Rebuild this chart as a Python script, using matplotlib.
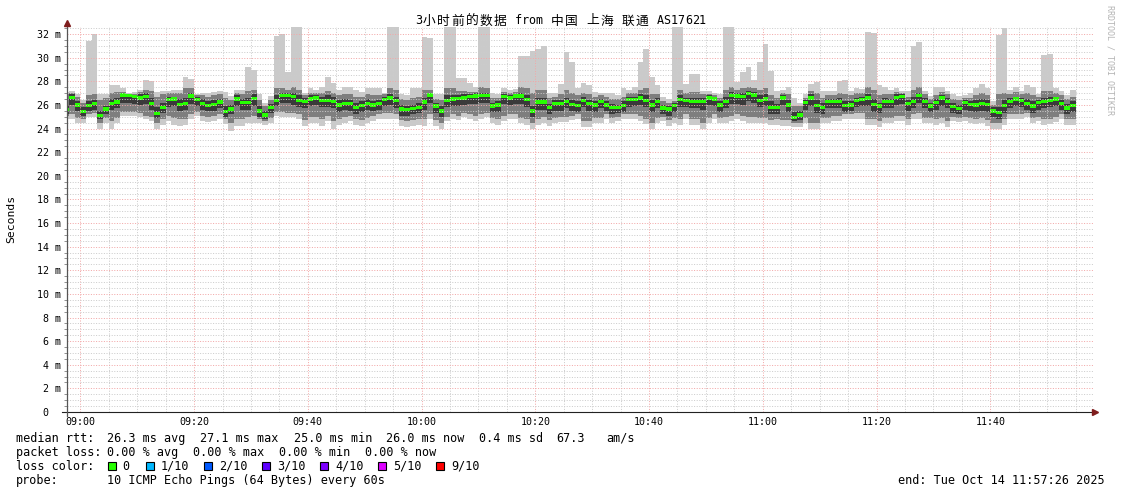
import numpy as np
import matplotlib
matplotlib.use("Agg")
import matplotlib.pyplot as plt
from matplotlib.lines import Line2D
from matplotlib.patches import Rectangle

plt.rcParams['font.family'] = ['DejaVu Sans Mono', 'Noto Sans CJK SC']

# ---------------- data ----------------
title = "3小时前的数据 from 中国 上海 联通 AS17621"
first_bar_minute = -3          # first 1-minute bar starts 08:57 (minutes from 09:00)

median = [25.6, 26.65, 26.0, 25.45, 25.95, 26.1, 25.1, 25.65, 26.1, 26.25,
          26.85, 26.8, 26.7, 26.6, 26.7, 26.1, 25.3, 25.8, 26.45, 26.5,
          26.05, 26.15, 26.75, 26.45, 26.15, 25.95, 26.05, 26.25, 25.45, 25.65,
          26.5, 26.2, 26.2, 26.55, 25.5, 25.15, 25.8, 26.4, 26.8, 26.8,
          26.7, 26.4, 26.3, 26.5, 26.6, 26.4, 26.4, 26.3, 26.0, 26.15,
          26.1, 25.8, 25.95, 26.15, 26.0, 26.15, 26.45, 26.6, 26.35, 25.65,
          25.6, 25.7, 25.8, 26.25, 26.85, 25.9, 25.5, 26.4, 26.5, 26.55,
          26.6, 26.7, 26.75, 26.8, 26.8, 25.9, 26.0, 26.7, 26.6, 26.75,
          26.75, 26.45, 25.5, 26.25, 26.25, 25.8, 26.1, 26.1, 26.3, 26.05,
          25.95, 26.4, 26.1, 26.0, 26.3, 26.0, 25.8, 25.8, 25.95, 26.45,
          26.45, 26.6, 26.4, 26.0, 26.3, 25.75, 25.65, 25.95, 26.45, 26.35,
          26.3, 26.3, 26.3, 26.6, 26.5, 26.0, 26.3, 26.8, 26.75, 26.7,
          26.95, 26.85, 26.4, 26.5, 25.8, 25.8, 26.6, 26.0, 24.95, 25.15,
          26.2, 26.6, 25.95, 25.8, 26.3, 26.3, 26.3, 25.95, 26.0, 26.35,
          26.45, 26.6, 26.05, 25.9, 26.3, 26.3, 26.65, 26.7, 26.1, 26.3,
          26.8, 26.3, 25.9, 26.2, 26.6, 26.3, 25.85, 25.7, 26.2, 26.05,
          26.0, 26.15, 26.05, 25.5, 25.35, 25.95, 26.3, 26.5, 26.35, 26.15,
          25.9, 26.2, 26.3, 26.4, 26.5, 26.15, 25.75, 25.95]

smoke_max = [27.1, 27.2, 26.9, 26.4, 31.4, 32.0, 26.9, 26.9, 27.7, 27.65,
             27.4, 27.0, 27.1, 27.3, 28.15, 28.05, 27.1, 27.2, 27.2, 27.3,
             27.3, 28.4, 28.2, 26.95, 27.0, 27.0, 27.1, 27.2, 27.1, 26.75,
             27.3, 27.3, 29.2, 29.0, 26.95, 26.15, 26.75, 31.85, 32.0, 28.8,
             32.6, 32.6, 27.0, 27.4, 27.3, 27.5, 28.35, 27.9, 27.3, 27.5,
             27.5, 27.3, 27.1, 27.45, 27.45, 27.4, 27.0, 32.6, 32.6, 26.95,
             26.85, 27.4, 27.4, 31.75, 31.7, 26.95, 26.95, 32.6, 32.6, 28.3,
             28.3, 27.9, 27.5, 32.6, 32.6, 27.0, 26.9, 27.4, 27.3, 27.35,
             30.15, 30.15, 30.55, 30.75, 31.0, 27.0, 27.0, 27.8, 30.5, 29.65,
             27.4, 27.85, 27.65, 27.1, 27.0, 27.05, 27.05, 26.8, 27.4, 27.3,
             27.5, 29.65, 30.7, 28.4, 27.7, 26.65, 26.5, 32.6, 32.6, 27.8,
             28.65, 28.65, 27.2, 27.2, 27.0, 26.95, 32.6, 32.6, 27.95, 28.8,
             29.2, 28.15, 29.65, 31.2, 28.85, 27.15, 27.3, 27.5, 26.6, 26.2,
             26.95, 27.8, 27.95, 27.2, 27.15, 27.15, 28.0, 28.1, 27.2, 27.4,
             27.35, 32.15, 32.1, 27.65, 27.5, 27.3, 27.4, 27.2, 27.15, 31.0,
             31.3, 27.2, 26.75, 27.5, 27.5, 27.2, 26.95, 26.75, 26.85, 27.0,
             27.4, 27.8, 27.4, 26.35, 31.95, 32.55, 27.3, 27.5, 27.15, 27.65,
             27.55, 26.95, 30.25, 30.3, 27.4, 27.15, 26.85, 27.3]

smoke_min = [24.8, 24.8, 24.45, 24.45, 24.95, 24.95, 24.0, 24.45, 24.0, 24.5,
             25.1, 25.05, 25.1, 24.95, 24.8, 24.65, 24.0, 24.3, 24.65, 24.3,
             24.2, 24.3, 24.8, 25.1, 24.65, 24.55, 24.65, 24.8, 24.35, 23.8,
             24.2, 24.2, 24.5, 24.5, 24.45, 24.3, 24.5, 25.1, 25.0, 24.95,
             24.95, 24.8, 24.2, 24.5, 24.45, 24.2, 24.6, 24.0, 24.3, 24.45,
             24.65, 24.3, 24.2, 24.45, 24.65, 24.8, 24.85, 24.85, 24.85, 24.25,
             24.1, 24.25, 24.3, 24.2, 24.8, 24.25, 23.95, 24.6, 24.85, 24.7,
             24.95, 24.8, 24.6, 24.8, 24.95, 24.5, 24.3, 24.65, 24.85, 24.85,
             24.45, 24.3, 24.0, 24.3, 24.5, 24.2, 24.5, 24.55, 24.55, 24.7,
             24.85, 24.1, 24.1, 24.5, 24.5, 24.8, 24.5, 24.65, 24.8, 24.8,
             24.8, 24.65, 24.35, 23.95, 24.5, 24.65, 24.2, 24.5, 24.3, 24.8,
             24.3, 24.3, 23.95, 24.5, 24.8, 24.45, 24.5, 24.65, 24.8, 24.65,
             24.5, 24.5, 24.5, 24.45, 24.3, 24.3, 24.2, 24.2, 24.1, 24.1,
             24.5, 23.95, 23.95, 24.45, 24.45, 24.65, 24.65, 24.8, 24.8, 24.85,
             24.85, 24.3, 24.3, 24.1, 24.5, 24.5, 24.65, 24.65, 24.3, 24.85,
             24.85, 24.5, 24.5, 24.3, 24.45, 24.1, 24.65, 24.55, 24.65, 24.5,
             24.35, 24.45, 24.2, 24.0, 24.0, 24.3, 24.8, 24.85, 24.85, 24.95,
             24.45, 24.65, 24.3, 24.4, 24.55, 24.8, 24.3, 24.3]

smoke_hi2 = [26.9, 27.0, 26.7, 26.2, 26.8, 26.9, 26.4, 26.6, 27.0, 27.1,
             27.1, 26.95, 26.9, 27.1, 27.3, 27.2, 26.7, 26.9, 27.0, 27.0,
             27.0, 27.4, 27.4, 26.85, 26.8, 26.7, 26.8, 26.9, 26.6, 26.4,
             27.0, 26.9, 27.2, 27.3, 26.4, 25.9, 26.4, 27.4, 27.4, 27.3,
             27.5, 27.3, 26.8, 27.0, 27.0, 27.0, 27.2, 27.0, 26.8, 26.9,
             26.9, 26.7, 26.7, 26.9, 26.8, 26.8, 26.9, 27.4, 27.3, 26.5,
             26.4, 26.6, 26.7, 27.3, 27.3, 26.5, 26.4, 27.4, 27.4, 27.2,
             27.2, 27.1, 27.1, 27.5, 27.4, 26.6, 26.6, 27.1, 27.0, 27.1,
             27.5, 27.4, 27.0, 27.3, 27.3, 26.6, 26.7, 26.9, 27.3, 27.0,
             26.8, 27.0, 26.9, 26.7, 26.8, 26.7, 26.5, 26.5, 26.7, 27.0,
             27.0, 27.3, 27.4, 26.9, 26.9, 26.3, 26.2, 26.3, 27.3, 27.0,
             27.1, 27.1, 26.9, 26.9, 26.8, 26.6, 27.3, 27.5, 27.3, 27.4,
             27.5, 27.4, 27.3, 27.4, 26.8, 26.6, 27.0, 26.9, 25.9, 25.9,
             26.6, 27.2, 27.0, 26.6, 26.8, 26.8, 27.0, 26.9, 26.8, 27.0,
             27.0, 27.5, 27.3, 26.8, 26.9, 26.9, 27.1, 27.0, 26.7, 27.3,
             27.5, 26.9, 26.5, 26.8, 27.1, 26.9, 26.5, 26.4, 26.6, 26.6,
             26.8, 27.0, 26.8, 26.0, 26.9, 27.0, 26.9, 27.1, 26.9, 27.0,
             26.8, 26.7, 27.2, 27.2, 27.0, 26.8, 26.5, 26.7]

smoke_lo2 = [25.1, 25.2, 24.9, 24.8, 25.2, 25.3, 24.5, 24.9, 24.6, 24.9,
             25.4, 25.4, 25.4, 25.3, 25.1, 25.0, 24.5, 24.8, 25.1, 24.9,
             24.8, 24.8, 25.2, 25.4, 25.1, 25.0, 25.1, 25.2, 24.8, 24.5,
             24.8, 24.8, 25.0, 25.1, 24.8, 24.6, 24.9, 25.4, 25.4, 25.3,
             25.3, 25.2, 24.7, 25.0, 25.0, 24.8, 25.1, 24.6, 24.8, 25.0,
             25.1, 24.8, 24.7, 24.9, 25.1, 25.2, 25.3, 25.3, 25.2, 24.7,
             24.6, 24.7, 24.8, 24.8, 25.2, 24.7, 24.5, 25.0, 25.2, 25.1,
             25.3, 25.2, 25.1, 25.2, 25.3, 24.9, 24.8, 25.1, 25.2, 25.2,
             24.9, 24.8, 24.5, 24.8, 25.0, 24.7, 24.9, 25.0, 25.0, 25.1,
             25.2, 24.6, 24.6, 24.9, 24.9, 25.2, 24.9, 25.0, 25.2, 25.2,
             25.2, 25.1, 24.8, 24.5, 24.9, 25.0, 24.7, 24.9, 24.8, 25.2,
             24.8, 24.8, 24.5, 24.9, 25.2, 24.9, 25.0, 25.1, 25.2, 25.1,
             25.0, 25.0, 24.9, 24.9, 24.7, 24.8, 24.7, 24.7, 24.5, 24.5,
             24.9, 24.5, 24.5, 24.9, 24.9, 25.1, 25.1, 25.2, 25.2, 25.3,
             25.3, 24.8, 24.8, 24.6, 24.9, 24.9, 25.1, 25.1, 24.8, 25.2,
             25.3, 24.9, 24.9, 24.8, 24.9, 24.6, 25.0, 24.9, 25.0, 24.9,
             24.8, 24.9, 24.7, 24.5, 24.5, 24.8, 25.2, 25.2, 25.2, 25.3,
             24.9, 25.0, 24.8, 24.8, 25.0, 25.2, 24.8, 24.8]

smoke_hi3 = [26.0, 26.9, 26.3, 25.8, 26.3, 26.4, 25.5, 25.9, 26.5, 26.6,
             27.0, 26.9, 26.85, 26.9, 27.0, 26.6, 25.8, 26.2, 26.7, 26.7,
             26.5, 26.6, 27.0, 26.7, 26.5, 26.3, 26.4, 26.5, 25.9, 26.0,
             26.8, 26.5, 26.6, 26.9, 25.9, 25.5, 26.1, 26.8, 27.0, 27.0,
             27.0, 26.8, 26.6, 26.8, 26.8, 26.7, 26.8, 26.7, 26.4, 26.5,
             26.4, 26.2, 26.3, 26.5, 26.3, 26.4, 26.7, 26.9, 26.7, 26.0,
             25.9, 26.0, 26.2, 26.6, 27.0, 26.2, 25.9, 26.8, 26.8, 26.8,
             26.9, 26.9, 27.0, 27.0, 27.0, 26.2, 26.3, 26.9, 26.85, 26.95,
             27.0, 26.8, 25.9, 26.6, 26.6, 26.1, 26.4, 26.4, 26.6, 26.4,
             26.3, 26.7, 26.4, 26.3, 26.5, 26.3, 26.1, 26.0, 26.3, 26.7,
             26.7, 26.9, 26.8, 26.4, 26.6, 26.0, 25.95, 26.2, 26.8, 26.6,
             26.6, 26.6, 26.6, 26.8, 26.7, 26.3, 26.7, 27.1, 27.0, 27.0,
             27.2, 27.1, 26.8, 26.9, 26.3, 26.1, 26.8, 26.4, 25.4, 25.5,
             26.4, 26.9, 26.4, 26.2, 26.5, 26.5, 26.6, 26.3, 26.3, 26.6,
             26.7, 26.9, 26.5, 26.2, 26.6, 26.5, 26.9, 26.9, 26.4, 26.7,
             27.0, 26.6, 26.2, 26.5, 26.8, 26.6, 26.2, 26.0, 26.4, 26.3,
             26.4, 26.5, 26.4, 25.8, 25.8, 26.4, 26.6, 26.7, 26.6, 26.5,
             26.3, 26.4, 26.6, 26.7, 26.7, 26.4, 26.1, 26.3]

smoke_lo3 = [25.2, 26.0, 25.5, 25.1, 25.5, 25.6, 24.8, 25.2, 25.6, 25.7,
             26.2, 26.2, 26.1, 26.0, 26.1, 25.6, 24.9, 25.3, 25.8, 25.9,
             25.5, 25.6, 26.1, 25.9, 25.6, 25.5, 25.5, 25.7, 25.0, 25.2,
             25.9, 25.6, 25.6, 25.9, 25.0, 24.8, 25.3, 25.9, 26.2, 26.2,
             26.0, 25.8, 25.7, 25.9, 26.0, 25.8, 25.8, 25.7, 25.4, 25.6,
             25.5, 25.2, 25.4, 25.6, 25.5, 25.6, 25.9, 26.0, 25.7, 25.1,
             25.1, 25.2, 25.3, 25.6, 26.2, 25.3, 25.0, 25.8, 25.9, 25.9,
             26.0, 26.1, 26.1, 26.2, 26.2, 25.4, 25.4, 26.1, 26.0, 26.1,
             26.1, 25.8, 25.0, 25.6, 25.6, 25.2, 25.5, 25.5, 25.7, 25.5,
             25.4, 25.8, 25.5, 25.4, 25.7, 25.5, 25.2, 25.3, 25.4, 25.8,
             25.9, 26.0, 25.8, 25.4, 25.7, 25.2, 25.1, 25.4, 25.8, 25.8,
             25.7, 25.7, 25.6, 26.0, 25.9, 25.4, 25.7, 26.1, 26.1, 26.0,
             26.3, 26.2, 25.8, 25.9, 25.2, 25.2, 26.0, 25.4, 24.6, 24.7,
             25.6, 25.9, 25.3, 25.2, 25.7, 25.7, 25.7, 25.4, 25.5, 25.8,
             25.9, 25.9, 25.4, 25.3, 25.7, 25.7, 26.0, 26.1, 25.5, 25.7,
             26.2, 25.7, 25.4, 25.6, 25.9, 25.7, 25.3, 25.2, 25.6, 25.5,
             25.4, 25.5, 25.4, 25.0, 24.8, 25.3, 25.7, 25.9, 25.8, 25.6,
             25.3, 25.6, 25.7, 25.8, 25.9, 25.6, 25.2, 25.4]

xtick_minutes = [0, 20, 40, 60, 80, 100, 120, 140, 160]
xtick_labels = ['09:00', '09:20', '09:40', '10:00', '10:20', '10:40',
                '11:00', '11:20', '11:40']
ytick_values = list(range(0, 33, 2))
ytick_labels = [' 0'] + ['%2d m' % v for v in range(2, 33, 2)]

rtt_items = ["26.3 ms avg", "27.1 ms max", "25.0 ms min", "26.0 ms now",
             "0.4 ms sd", "67.3", "am/s"]
loss_items = ["0.00 % avg", "0.00 % max", "0.00 % min", "0.00 % now"]
loss_color_labels = ["0", "1/10", "2/10", "3/10", "4/10", "5/10", "9/10"]
loss_colors = ['#26ff00', '#00b8ff', '#0059ff', '#5e00ff', '#7e00ff',
               '#dd00ff', '#ff0000']
probe_text = "10 ICMP Echo Pings (64 Bytes) every 60s"
end_text = "end: Tue Oct 14 11:57:26 2025"

# ---------------- layout ----------------
W, H = 1121, 494
fig = plt.figure(figsize=(W / 100, H / 100), dpi=100)
fig.patch.set_facecolor('white')


def fx(x):
    return x / W


def fy(y):
    return 1 - y / H


AX_L, AX_R, AX_T, AX_B = 66.5, 1093, 27, 412
ax = fig.add_axes([fx(AX_L), fy(AX_B), (AX_R - AX_L) / W, (AX_B - AX_T) / H])
ax.set_xlim(-2.43, 178.06)
ax.set_ylim(0, 32.6)
for s in ax.spines.values():
    s.set_visible(False)

n = len(median)
edges = first_bar_minute + np.arange(n + 1)


def ext(a):
    a = np.asarray(a, float)
    return np.append(a, a[-1])


ax.fill_between(edges, ext(smoke_min), ext(smoke_max), step='post',
                color='#cacaca', lw=0, zorder=1)
ax.fill_between(edges, ext(smoke_lo2), ext(smoke_hi2), step='post',
                color='#7e7e7e', lw=0, zorder=1.1)
ax.fill_between(edges, ext(smoke_lo3), ext(smoke_hi3), step='post',
                color='#3a3a3a', lw=0, zorder=1.2)
md = np.asarray(median, float)
ax.fill_between(edges, ext(md - 0.14), ext(md + 0.14), step='post',
                color='#26ff00', lw=0, zorder=1.3)

# grid
ax.set_xticks(xtick_minutes, labels=xtick_labels)
ax.set_xticks([m for m in range(0, 180, 5) if m % 20], minor=True)
ax.set_yticks(ytick_values, labels=ytick_labels)
ax.set_yticks([v / 2 for v in range(0, 66) if v % 4], minor=True)
ax.set_axisbelow(False)
ax.grid(True, which='major', color='#f2a8a8', lw=0.72, ls=(0, (1, 1.6)))
ax.grid(True, which='minor', color='#cccccc', lw=0.72, ls=(0, (1, 1.6)))
ax.tick_params(axis='x', which='both', length=0, pad=3.3, labelsize=7.2)
ax.tick_params(axis='y', which='major', length=0, pad=21.2, labelsize=7.2)
ax.tick_params(axis='y', which='minor', length=2, width=0.7, color='#909090',
               direction='out')
for lab in ax.get_yticklabels():
    lab.set_horizontalalignment('left')

# axes lines with arrows
fig.add_artist(Line2D([fx(62), fx(1093)], [fy(412), fy(412)], color='#222222', lw=0.8))
fig.add_artist(Line2D([fx(AX_L), fx(AX_L)], [fy(416), fy(25)], color='#555555', lw=0.9))
fig.add_artist(Line2D([fx(1095)], [fy(412)], marker='>', ms=4.2, color='#7f1d1d', ls='none'))
fig.add_artist(Line2D([fx(AX_L)], [fy(23)], marker='^', ms=4.2, color='#7f1d1d', ls='none'))

mono = ['DejaVu Sans Mono', 'Noto Sans CJK SC']

# title: monospace cells, CJK characters take a double-width cell
cell = 7.1
cursor = 415.0
for ch in title:
    wide = ord(ch) > 0x2E80
    w = 2 * cell if wide else cell
    if ch != ' ':
        if wide:
            fig.text(fx(cursor + w / 2), fy(21), ch, ha='center', va='center',
                     fontsize=9.2, family=['Noto Sans CJK SC'])
        else:
            fig.text(fx(cursor + w / 2), fy(21), ch, ha='center', va='center',
                     fontsize=8.5, family=['DejaVu Sans Mono'])
    cursor += w

fig.text(fx(11), fy(219), 'Seconds', rotation=90, ha='center', va='center',
         fontsize=8.2, family=mono)
fig.text(fx(1110), fy(60), 'RRDTOOL / TOBI OETIKER', rotation=270, ha='center',
         va='center', fontsize=6, color='#b4b4b4', family=mono)

FS = 8.5
row_y = [438, 452, 466, 480]
fig.text(fx(16), fy(row_y[0]), 'median rtt:', va='center', fontsize=FS, family=mono)
for s, x in zip(rtt_items, [107, 200, 293.5, 386, 479, 556, 606]):
    fig.text(fx(x), fy(row_y[0]), s, va='center', fontsize=FS, family=mono)
fig.text(fx(16), fy(row_y[1]), 'packet loss:', va='center', fontsize=FS, family=mono)
for s, x in zip(loss_items, [107, 193, 279, 365]):
    fig.text(fx(x), fy(row_y[1]), s, va='center', fontsize=FS, family=mono)
fig.text(fx(16), fy(row_y[2]), 'loss color:', va='center', fontsize=FS, family=mono)
for s, c, sx, lx in zip(loss_color_labels, loss_colors,
                        [108, 146, 204, 262, 320, 378, 436],
                        [122.5, 161, 219, 277, 335, 393, 451]):
    fig.add_artist(Rectangle((fx(sx), fy(470)), 8 / W, 8 / H, facecolor=c,
                             edgecolor='black', lw=0.8, transform=fig.transFigure))
    fig.text(fx(lx), fy(row_y[2]), s, va='center', fontsize=FS, family=mono)
fig.text(fx(16), fy(row_y[3]), 'probe:', va='center', fontsize=FS, family=mono)
fig.text(fx(107), fy(row_y[3]), probe_text, va='center', fontsize=FS, family=mono)
fig.text(fx(1105), fy(row_y[3]), end_text, ha='right', va='center', fontsize=FS, family=mono)

fig.savefig('out.png', dpi=100)
